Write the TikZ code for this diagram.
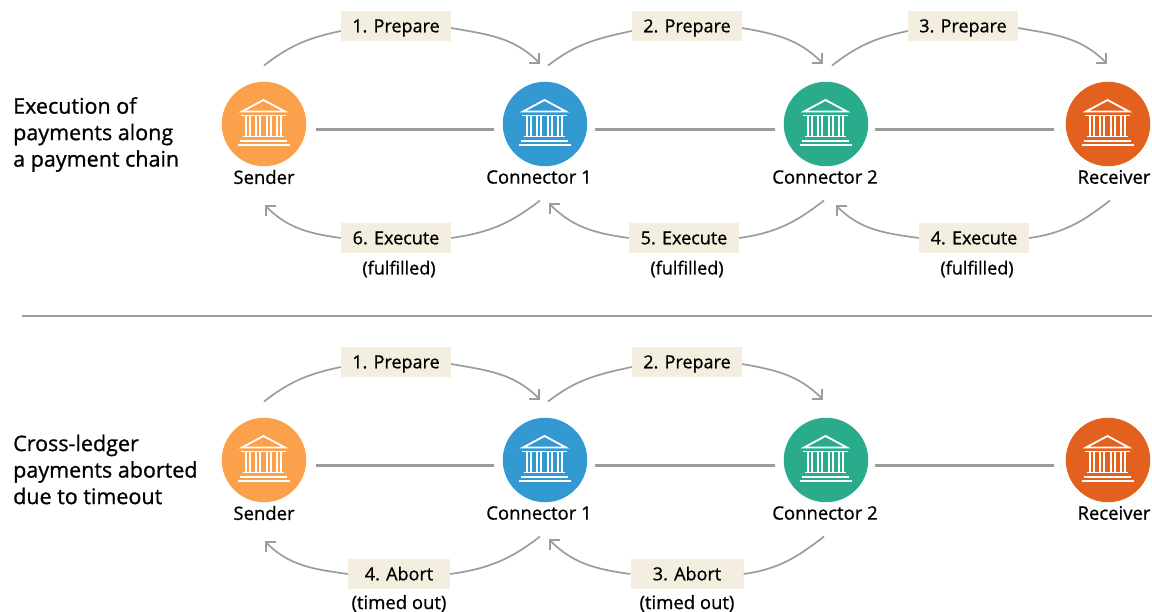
\documentclass[tikz,border=0pt]{standalone}
\usepackage{fontspec}
\setmainfont{Open Sans}[FakeBold=0.9]
\usetikzlibrary{arrows.meta}

\definecolor{bankA}{HTML}{FBA14B}
\definecolor{bankB}{HTML}{3299D1}
\definecolor{bankC}{HTML}{2AAB8C}
\definecolor{bankD}{HTML}{E2611F}
\definecolor{tagfill}{HTML}{F3EEDF}
\definecolor{wire}{HTML}{9C9C9C}

\tikzstyle{bank} = [circle, minimum size=84.5pt, inner sep=0pt]
\tikzstyle{caption} = [font=\fontsize{18.5}{22}\selectfont, inner sep=0pt]
\tikzstyle{tag} = [rectangle, fill=tagfill, minimum width=110pt, minimum height=30pt, inner sep=0pt, text height=12.6pt, text depth=0pt, font=\fontsize{18}{21}\selectfont]
\tikzstyle{note} = [font=\fontsize{18}{21}\selectfont, inner sep=0pt]
\tikzstyle{heading} = [font=\fontsize{21.5}{26.5}\selectfont, align=left, anchor=west, inner sep=0pt]
\tikzstyle{line} = [draw=wire, line width=2.6pt]
\tikzstyle{arc} = [draw=wire, line width=1.7pt]
\tikzstyle{tip} = [arc, -{Straight Barb[length=7pt,width=14pt]}]

\tikzset{pics/temple/.style={code={
  \draw [white, line width=1.8pt, line join=miter] (-22,-12.5) -- (-0.5,-24) -- (21,-12.5) -- cycle;
  \draw [white, line width=1.8pt] (-23,-8.5) -- (22,-8.5);
  \foreach \c in {-18.2,-13.8,-8.2,-3.8,2.8,7.2,12.8,17.2}
    \draw [white, line width=1.6pt] (\c,-8.5) -- (\c,12.5);
  \draw [white, line width=1.8pt] (-21,12.5) -- (20,12.5);
  \draw [white, line width=1.8pt] (-24,17) -- (23,17);
  \draw [white, line width=1.8pt] (-26.5,21) -- (25.5,21);
}}}

\begin{document}
\begin{tikzpicture}[x=1pt, y=-1pt, node distance=53pt]
\useasboundingbox (0,0) rectangle (1152,612);

\foreach \r/\y in {A/124, B/460} {
  \node [bank, fill=bankA] (Sender\r) at (264,\y) {};
  \node [bank, fill=bankB] (ConnOne\r) at (545,\y) {};
  \node [bank, fill=bankC] (ConnTwo\r) at (826,\y) {};
  \node [bank, fill=bankD] (Receiver\r) at (1108,\y) {};
  \pic at (Sender\r) {temple};
  \pic at (ConnOne\r) {temple};
  \pic at (ConnTwo\r) {temple};
  \pic at (Receiver\r) {temple};
  \node [caption, below of=Sender\r] (SenderName\r) {Sender};
  \node [caption, below of=ConnOne\r, xshift=-6pt] (ConnOneName\r) {Connector 1};
  \node [caption, below of=ConnTwo\r, xshift=-1pt] (ConnTwoName\r) {Connector 2};
  \node [caption, below of=Receiver\r, xshift=6pt] (ReceiverName\r) {Receiver};
  \path [line] ([xshift=10pt,yshift=-5.5pt]Sender\r.east) -- ([xshift=-9pt,yshift=-5.5pt]ConnOne\r.west);
  \path [line] ([xshift=8pt,yshift=-5.5pt]ConnOne\r.east) -- ([xshift=-9pt,yshift=-5.5pt]ConnTwo\r.west);
  \path [line] ([xshift=7pt,yshift=-5.5pt]ConnTwo\r.east) -- ([xshift=-12pt,yshift=-5.5pt]Receiver\r.west);
}

\node [heading] (HeadA) at (13,134.5) {Execution of\\payments along\\a payment chain};
\node [heading] (HeadB) at (13,469.5) {Cross-ledger\\payments aborted\\due to timeout};

\coordinate (RuleL) at (22,316);
\coordinate (RuleR) at (1152,316);
\path [line] (RuleL) -- (RuleR);

% upper chain
\node [tag] (PrepA) at (396,26) {1. Prepare};
\node [tag] (PrepB) at (687,26) {2. Prepare};
\node [tag] (PrepC) at (963,26) {3. Prepare};
\node [tag] (ExecC) at (974,238) {4. Execute};
\node [tag] (ExecB) at (684,238) {5. Execute};
\node [tag] (ExecA) at (396,238) {6. Execute};
\node [note, below of=ExecC, node distance=31pt, xshift=3pt] (NoteC) {(fulfilled)};
\node [note, below of=ExecB, node distance=31pt, xshift=3pt] (NoteB) {(fulfilled)};
\node [note, below of=ExecA, node distance=31pt, xshift=3pt] (NoteA) {(fulfilled)};

\path [arc] ([yshift=16pt]SenderA.north) to [out=38,in=192] ([yshift=-5pt]PrepA.west);
\path [tip] ([yshift=-2pt]PrepA.east) to [out=-10,in=135] ([xshift=-5pt,yshift=18pt]ConnOneA.north);
\path [arc] ([xshift=3pt,yshift=16pt]ConnOneA.north) to [out=38,in=192] ([yshift=-5pt]PrepB.west);
\path [tip] ([yshift=-2pt]PrepB.east) to [out=-10,in=135] ([xshift=-3pt,yshift=18pt]ConnTwoA.north);
\path [arc] ([xshift=6pt,yshift=16pt]ConnTwoA.north) to [out=38,in=192] ([yshift=-5pt]PrepC.west);
\path [tip] ([yshift=-2pt]PrepC.east) to [out=-10,in=135] ([xshift=-1pt,yshift=18pt]ReceiverA.north);

\path [arc] ([xshift=2pt,yshift=-34pt]ReceiverA.south) to [out=218,in=8] (ExecC.east);
\path [tip] (ExecC.west) to [out=172,in=-45] ([xshift=10pt,yshift=-39pt]ConnTwoA.south);
\path [arc] ([xshift=-2pt,yshift=-34pt]ConnTwoA.south) to [out=218,in=8] (ExecB.east);
\path [tip] (ExecB.west) to [out=172,in=-45] ([xshift=4pt,yshift=-37pt]ConnOneA.south);
\path [arc] ([xshift=-5pt,yshift=-34pt]ConnOneA.south) to [out=218,in=8] (ExecA.east);
\path [tip] (ExecA.west) to [out=172,in=-45] ([xshift=1pt,yshift=-39pt]SenderA.south);

% lower chain
\node [tag] (PrepD) at (396,362) {1. Prepare};
\node [tag] (PrepE) at (687,362) {2. Prepare};
\node [tag, minimum width=102pt] (AbortB) at (399,574) {4. Abort};
\node [tag, minimum width=113pt] (AbortA) at (687,574) {3. Abort};
\node [note, below of=AbortB, node distance=29.5pt, font=\fontsize{18.5}{21}\selectfont] (NoteD) {(timed out)};
\node [note, below of=AbortA, node distance=29.5pt, font=\fontsize{18.5}{21}\selectfont] (NoteE) {(timed out)};

\path [arc] ([yshift=16pt]SenderB.north) to [out=38,in=192] ([yshift=-5pt]PrepD.west);
\path [tip] ([yshift=-2pt]PrepD.east) to [out=-10,in=135] ([xshift=-5pt,yshift=18pt]ConnOneB.north);
\path [arc] ([xshift=3pt,yshift=16pt]ConnOneB.north) to [out=38,in=192] ([yshift=-5pt]PrepE.west);
\path [tip] ([yshift=-2pt]PrepE.east) to [out=-10,in=135] ([xshift=-3pt,yshift=18pt]ConnTwoB.north);

\path [arc] ([xshift=-2pt,yshift=-34pt]ConnTwoB.south) to [out=218,in=8] (AbortA.east);
\path [tip] (AbortA.west) to [out=172,in=-45] ([xshift=4pt,yshift=-37pt]ConnOneB.south);
\path [arc] ([xshift=-5pt,yshift=-34pt]ConnOneB.south) to [out=218,in=8] (AbortB.east);
\path [tip] (AbortB.west) to [out=172,in=-45] ([xshift=1pt,yshift=-39pt]SenderB.south);
\end{tikzpicture}
\end{document}
